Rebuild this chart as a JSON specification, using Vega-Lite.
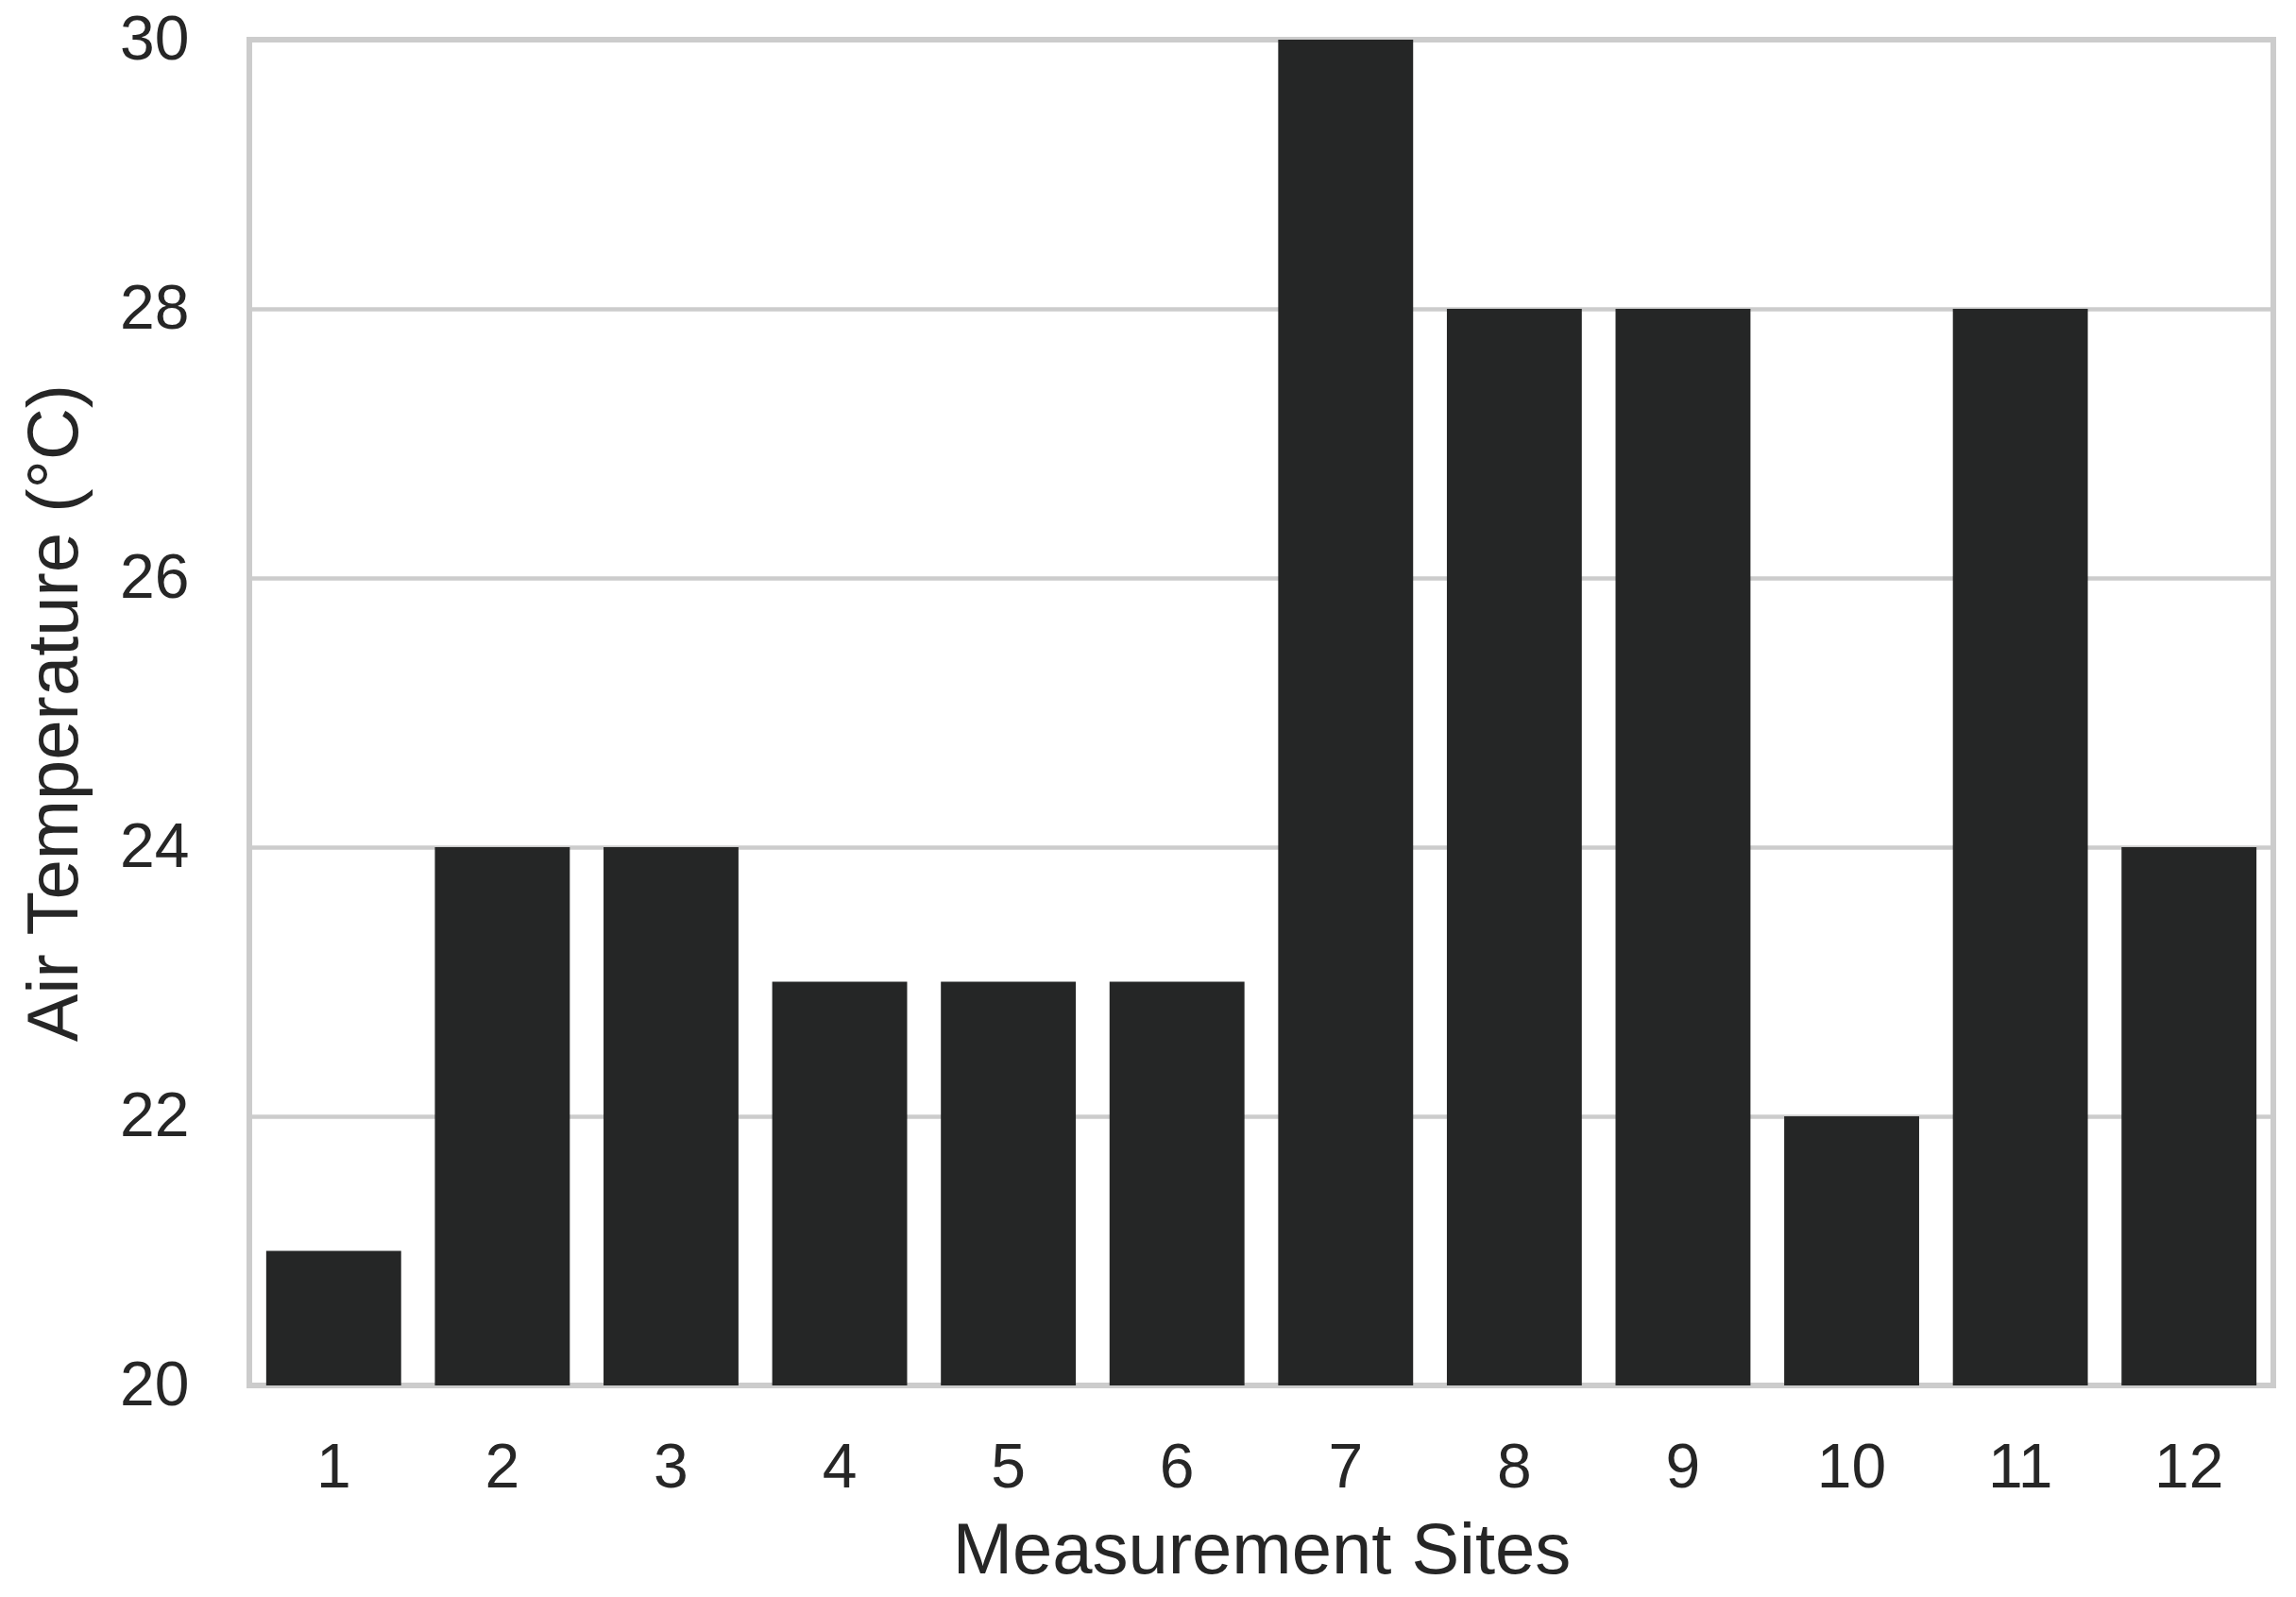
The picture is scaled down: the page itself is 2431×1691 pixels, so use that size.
{
  "$schema": "https://vega.github.io/schema/vega-lite/v6.json",
  "width": 2143,
  "height": 1425,
  "autosize": {"type": "none"},
  "padding": {"left": 264, "top": 42, "right": 24, "bottom": 224},
  "background": "white",
  "config": {
    "font": "Liberation Sans",
    "view": {"stroke": "#cccccc", "strokeWidth": 6},
    "axis": {
      "labelColor": "#262626",
      "titleColor": "#262626",
      "labelFont": "Liberation Sans",
      "titleFont": "Liberation Sans",
      "labelFontSize": 66,
      "titleFontSize": 76,
      "titleFontWeight": "normal",
      "ticks": false,
      "domain": false
    }
  },
  "data": {
    "values": [
      {"site": 1, "temp": 21},
      {"site": 2, "temp": 24},
      {"site": 3, "temp": 24},
      {"site": 4, "temp": 23},
      {"site": 5, "temp": 23},
      {"site": 6, "temp": 23},
      {"site": 7, "temp": 30},
      {"site": 8, "temp": 28},
      {"site": 9, "temp": 28},
      {"site": 10, "temp": 22},
      {"site": 11, "temp": 28},
      {"site": 12, "temp": 24}
    ]
  },
  "mark": {"type": "bar", "color": "#252626", "clip": true},
  "encoding": {
    "x": {
      "field": "site",
      "type": "ordinal",
      "scale": {"paddingInner": 0.2, "paddingOuter": 0.1},
      "axis": {
        "title": "Measurement Sites",
        "labelAngle": 0,
        "labelPadding": 55,
        "titlePadding": 18,
        "grid": false
      }
    },
    "y": {
      "field": "temp",
      "type": "quantitative",
      "scale": {"domain": [20, 30], "zero": false, "nice": false},
      "axis": {
        "title": "Air Temperature (°C)",
        "values": [20, 22, 24, 26, 28, 30],
        "labelPadding": 64,
        "titlePadding": 29,
        "grid": true,
        "gridColor": "#cccccc",
        "gridWidth": 4.5
      }
    },
    "y2": {"datum": 20}
  }
}
